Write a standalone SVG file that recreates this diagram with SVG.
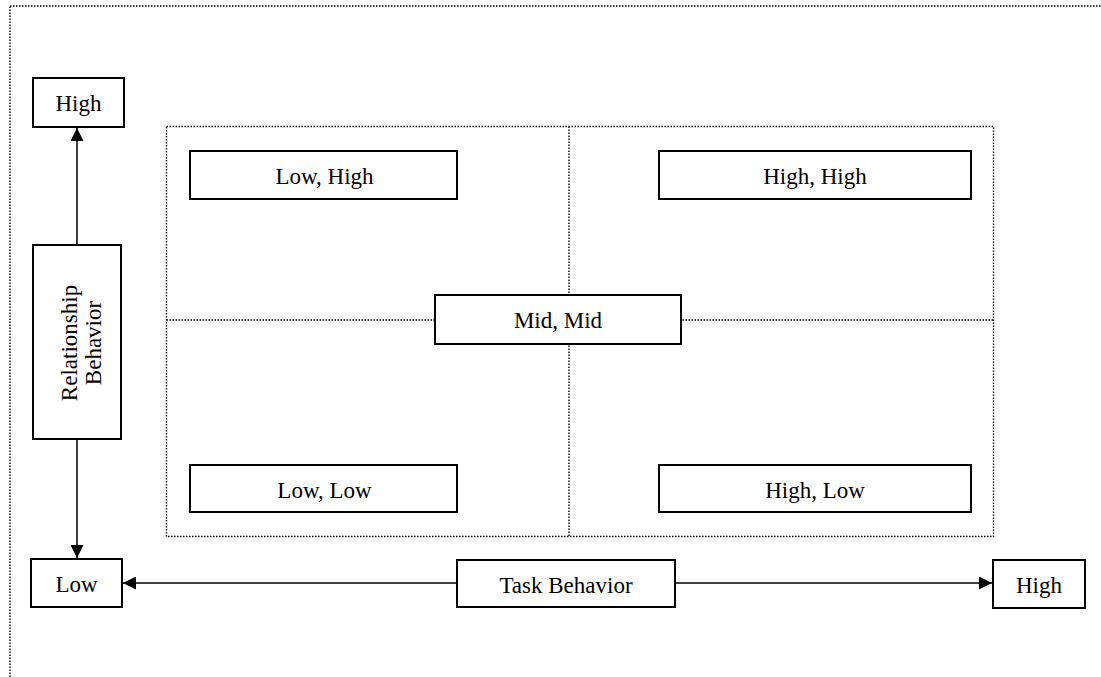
<svg xmlns="http://www.w3.org/2000/svg" width="1101" height="677" viewBox="0 0 1101 677">
<style>
.box{fill:#fff;stroke:#000;stroke-width:2}
.dot{fill:none;stroke:#000;stroke-width:1.4;stroke-dasharray:1.5 1.5}
.t{font-family:"Liberation Serif","Times New Roman",serif;font-size:23px;fill:#000;text-anchor:middle;dominant-baseline:central}
.c{stroke:#000;stroke-width:1.5;fill:none;marker-end:url(#ah)}
</style>
<defs>
<marker id="ah" viewBox="0 0 10 10" refX="10" refY="5" markerWidth="14" markerHeight="13" markerUnits="userSpaceOnUse" orient="auto">
<path d="M0,0 L10,5 L0,10 z" fill="#000"/>
</marker>
</defs>
<rect x="10" y="6" width="1100" height="680" class="dot"/>
<g id="grid">
<rect x="166.5" y="126.5" width="827" height="410" class="dot"/>
<line x1="569" y1="126.5" x2="569" y2="536.5" class="dot"/>
<line x1="166.5" y1="320" x2="993.5" y2="320" class="dot"/>
</g>
<g id="connectors">
<line x1="77" y1="245" x2="77" y2="128" class="c"/>
<line x1="77" y1="439" x2="77" y2="558" class="c"/>
<line x1="457" y1="583" x2="123" y2="583" class="c"/>
<line x1="675" y1="583" x2="992" y2="583" class="c"/>
</g>
<g id="rel-high"><rect x="33" y="78" width="91" height="49" class="box"/><text x="78.5" y="103" class="t">High</text></g>
<g id="rel-behavior"><rect x="33" y="245" width="88" height="194" class="box"/>
<text class="t" transform="translate(81 343) rotate(-90)"><tspan x="0" y="-12">Relationship</tspan><tspan x="0" y="12">Behavior</tspan></text></g>
<g id="low-high"><rect x="190" y="151" width="267" height="48" class="box"/><text x="324.5" y="176" class="t">Low, High</text></g>
<g id="high-high"><rect x="659" y="151" width="312" height="48" class="box"/><text x="815" y="176" class="t">High, High</text></g>
<g id="mid-mid"><rect x="435" y="295" width="246" height="49" class="box"/><text x="558" y="320" class="t">Mid, Mid</text></g>
<g id="low-low"><rect x="190" y="465" width="267" height="47" class="box"/><text x="324.5" y="490" class="t">Low, Low</text></g>
<g id="high-low"><rect x="659" y="465" width="312" height="47" class="box"/><text x="815" y="490" class="t">High, Low</text></g>
<g id="task-low"><rect x="31" y="559" width="91" height="48" class="box"/><text x="76.5" y="584" class="t">Low</text></g>
<g id="task-behavior"><rect x="457" y="560" width="218" height="47" class="box"/><text x="566" y="585" class="t">Task Behavior</text></g>
<g id="task-high"><rect x="993" y="560" width="92" height="48" class="box"/><text x="1039" y="585" class="t">High</text></g>
</svg>
